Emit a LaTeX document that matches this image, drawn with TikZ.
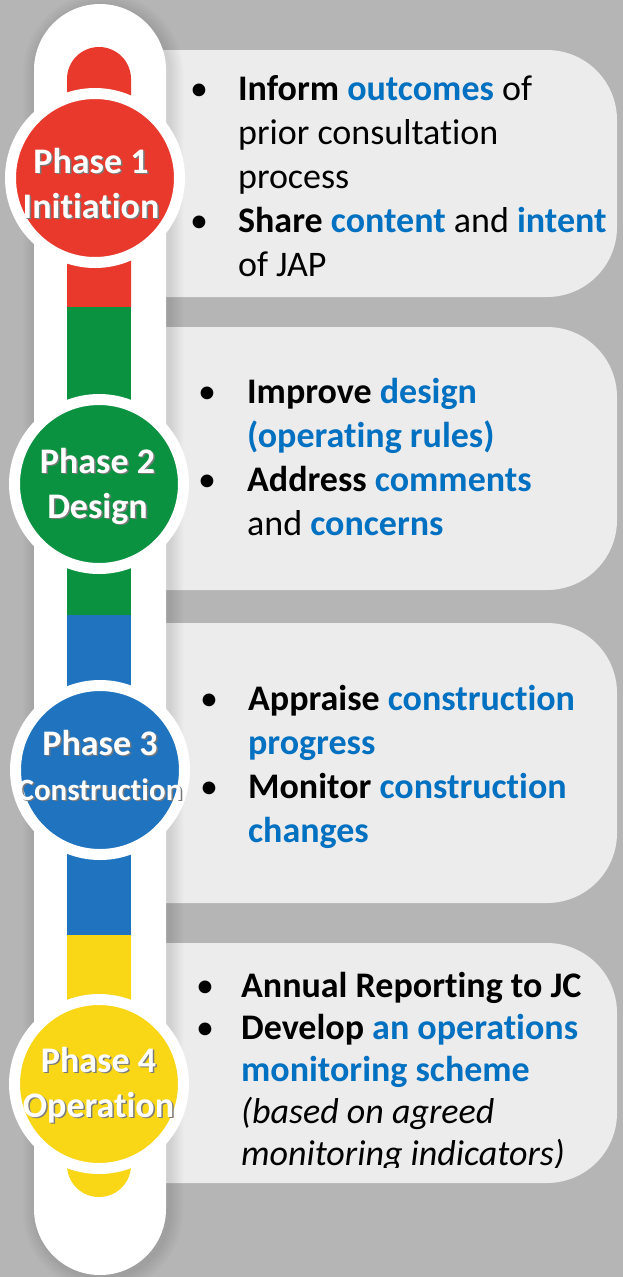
\documentclass[tikz,border=0pt]{standalone}
\usepackage{fontspec}
\setmainfont{Carlito}[Ligatures={TeX,NoCommon}]
\definecolor{bggray}{HTML}{B5B5B5}
\definecolor{panelgray}{HTML}{EDECED}
\definecolor{phred}{HTML}{E9392D}
\definecolor{phgreen}{HTML}{0B9241}
\definecolor{phblue}{HTML}{1F73BF}
\definecolor{phyellow}{HTML}{F9D616}
\definecolor{keyblue}{HTML}{0070C0}
\definecolor{labelshadow}{HTML}{7A7A7A}
\newcommand{\kw}[1]{\textcolor{keyblue}{\textbf{#1}}}

\begin{document}
\begin{tikzpicture}[x=1pt,y=-1pt,
  panel/.style={fill=panelgray,rounded corners=70pt},
  disc/.style={circle,draw=white,line width=11pt,minimum size=169pt,inner sep=0pt},
  listtext/.style={anchor=base west,inner sep=0pt,font=\fontsize{36}{44}\selectfont},
  phasetext/.style={anchor=base,inner sep=0pt,font=\bfseries\fontsize{36}{45}\selectfont}]
  \fill[bggray] (0,0) rectangle (623,1277);
  \useasboundingbox (0,0) rectangle (623,1277);
  \fill[panel] (40,50) rectangle (617,297);
  \fill[panel] (40,327) rectangle (617,590);
  \fill[panel] (40,623) rectangle (617,903);
  \fill[panel] (40,943) rectangle (617,1183);
  \foreach \s [evaluate=\s as \r using 66+\s] in {2,4,...,14}
    \fill[black,opacity=0.015,rounded corners=\r pt] (34-\s+3,4-\s+3) rectangle (166+\s+3,1275+\s+3);
  \fill[white,rounded corners=66pt] (34,4) rectangle (166,1275);
  \fill[phred,rounded corners=32pt] (67,307) -- (67,47) -- (131,47) -- (131,307);
  \fill[phgreen] (67,307) rectangle (131,615);
  \fill[phblue] (67,615) rectangle (131,935);
  \fill[phyellow,rounded corners=32pt] (67,935) -- (67,1197) -- (131,1197) -- (131,935);
  \node[disc,fill=phred] (c1) at (95,178) {};
  \node[disc,fill=phgreen] (c2) at (99,484) {};
  \node[disc,fill=phblue] (c3) at (100,770) {};
  \node[disc,fill=phyellow] (c4) at (99,1084) {};
  \node[phasetext,text=labelshadow] (s1) at (92.5,174.5) {\begin{tabular}[t]{@{}c@{}}Phase 1\\Initiation\end{tabular}};
  \node[phasetext,text=white] (l1) at (91,173) {\begin{tabular}[t]{@{}c@{}}Phase 1\\Initiation\end{tabular}};
  \node[phasetext,text=labelshadow] (s2) at (99,474.5) {\begin{tabular}[t]{@{}c@{}}Phase 2\\Design\end{tabular}};
  \node[phasetext,text=white] (l2) at (97.5,473) {\begin{tabular}[t]{@{}c@{}}Phase 2\\Design\end{tabular}};
  \node[phasetext,text=labelshadow] (s3) at (101.5,756.5) {\begin{tabular}[t]{@{}c@{}}Phase 3\\{\fontsize{31}{43}\selectfont Construction}\end{tabular}};
  \node[phasetext,text=white] (l3) at (100,755) {\begin{tabular}[t]{@{}c@{}}Phase 3\\{\fontsize{31}{43}\selectfont Construction}\end{tabular}};
  \node[phasetext,text=labelshadow] (s4) at (100,1073.5) {\begin{tabular}[t]{@{}c@{}}Phase 4\\Operation\end{tabular}};
  \node[phasetext,text=white] (l4) at (98.5,1072) {\begin{tabular}[t]{@{}c@{}}Phase 4\\Operation\end{tabular}};
  \node[listtext] (t1) at (190,100) {\begin{tabular}[t]{@{}c@{\hspace{30pt}}l@{}}
    \textbullet & \textbf{Inform} \kw{outcomes} of\\
    & prior consultation\\
    & process\\
    \textbullet & \textbf{Share} \kw{content} and \kw{intent}\\
    & of JAP
  \end{tabular}};
  \node[listtext] (t2) at (198,403) {\begin{tabular}[t]{@{}c@{\hspace{31pt}}l@{}}
    \textbullet & \textbf{Improve} \kw{design}\\
    & \kw{(operating rules)}\\
    \textbullet & \textbf{Address} \kw{comments}\\
    & and \kw{concerns}
  \end{tabular}};
  \node[listtext] (t3) at (200,710) {\begin{tabular}[t]{@{}c@{\hspace{30pt}}l@{}}
    \textbullet & \textbf{Appraise} \kw{construction}\\
    & \kw{progress}\\
    \textbullet & \textbf{Monitor} \kw{construction}\\
    & \kw{changes}
  \end{tabular}};
  \begin{scope}
    \clip (150,943) rectangle (623,1167);
    \node[listtext,font=\fontsize{36}{42}\selectfont] (t4) at (196,997) {\begin{tabular}[t]{@{}c@{\hspace{27pt}}l@{}}
      \textbullet & \textbf{Annual Reporting to JC}\\
      \textbullet & \textbf{Develop} \kw{an operations}\\
      & \kw{monitoring scheme}\\
      & \textit{(based on agreed}\\
      & \textit{monitoring indicators)}
    \end{tabular}};
  \end{scope}
\end{tikzpicture}
\end{document}
